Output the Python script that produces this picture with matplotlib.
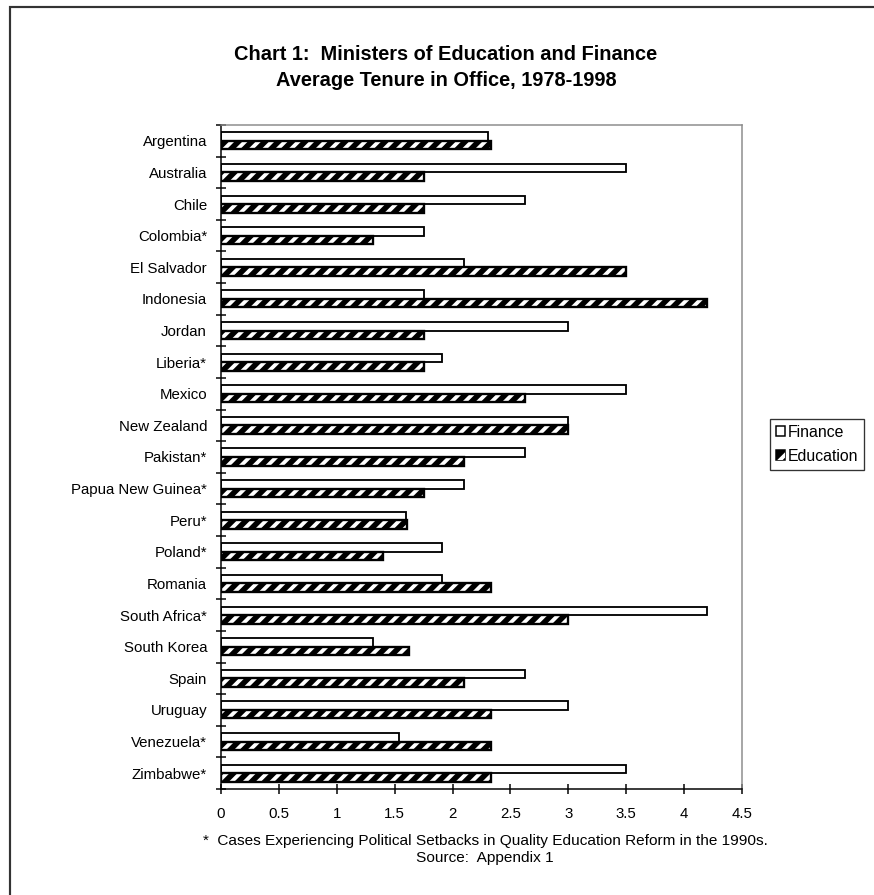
import matplotlib
matplotlib.use("Agg")
import matplotlib.pyplot as plt
import numpy as np
from matplotlib.patches import Rectangle
from matplotlib.legend_handler import HandlerTuple

plt.rcParams['font.family'] = ['Liberation Sans', 'DejaVu Sans']
plt.rcParams['hatch.linewidth'] = 2.3

countries = ["Argentina", "Australia", "Chile", "Colombia*", "El Salvador", "Indonesia",
             "Jordan", "Liberia*", "Mexico", "New Zealand", "Pakistan*", "Papua New Guinea*",
             "Peru*", "Poland*", "Romania", "South Africa*", "South Korea", "Spain",
             "Uruguay", "Venezuela*", "Zimbabwe*"]
finance = [2.31, 3.5, 2.625, 1.75, 2.1, 1.75, 3.0, 1.91, 3.5, 3.0, 2.625, 2.1,
           1.6, 1.91, 1.91, 4.2, 1.31, 2.625, 3.0, 1.54, 3.5]
education = [2.33, 1.75, 1.75, 1.31, 3.5, 4.2, 1.75, 1.75, 2.625, 3.0, 2.1, 1.75,
             1.61, 1.4, 2.33, 3.0, 1.62, 2.1, 2.33, 2.33, 2.33]
xticks = [0, 0.5, 1, 1.5, 2, 2.5, 3, 3.5, 4, 4.5]
xticklabels = ["0", "0.5", "1", "1.5", "2", "2.5", "3", "3.5", "4", "4.5"]

W, H, DPI = 874, 895, 120
fig = plt.figure(figsize=(W / DPI, H / DPI), dpi=DPI)
fig.patch.set_facecolor('white')

# outer border (cut off at right and bottom)
fig.patches.append(Rectangle((9.5 / W, -0.1), 1.2, 1 - 6.7 / H + 0.1,
                             transform=fig.transFigure, fill=False,
                             edgecolor='#333333', linewidth=1.3))

L, R, T, B = 221, 742, 125, 789
ax = fig.add_axes([L / W, 1 - B / H, (R - L) / W, (B - T) / H])

n = len(countries)
y = np.arange(n)
h = 0.27
ax.barh(y - h / 2, finance, height=h, facecolor='white', edgecolor='black',
        linewidth=1.1, zorder=2)
ax.barh(y + h / 2, education, height=h, facecolor='black', edgecolor='black',
        linewidth=1.0, zorder=2)
ax.barh(y + h / 2, education, height=h, facecolor='none', edgecolor='white',
        hatch='///', linewidth=0, zorder=3)
ax.barh(y + h / 2, education, height=h, fill=False, edgecolor='black',
        linewidth=1.4, zorder=4)

ax.set_xlim(0, 4.5)
ax.set_ylim(n - 0.5, -0.5)
ax.set_xticks(xticks)
ax.set_xticklabels(xticklabels, fontsize=9)
ax.set_yticks(y)
ax.set_yticklabels(countries, fontsize=9)
ax.set_yticks(np.arange(n + 1) - 0.5, minor=True)
ax.tick_params(axis='y', which='major', length=0, pad=8.4)
ax.tick_params(axis='y', which='minor', length=5.6, width=0.9, direction='inout', color='black')
ax.tick_params(axis='x', which='major', length=6, width=0.9, direction='inout', pad=7.5)

for s in ['left', 'bottom']:
    ax.spines[s].set_color('black')
    ax.spines[s].set_linewidth(0.9)
for s in ['top', 'right']:
    ax.spines[s].set_color('#8c8c8c')
    ax.spines[s].set_linewidth(0.9)
ax.set_facecolor('white')

# titles
fig.text(446 / W, 1 - 60 / H, "Chart 1:  Ministers of Education and Finance",
         ha='center', va='baseline', fontsize=12, fontweight='bold')
fig.text(446 / W, 1 - 86 / H, "Average Tenure in Office, 1978-1998",
         ha='center', va='baseline', fontsize=12, fontweight='bold')

# footnotes
fig.text(485 / W, 1 - 845 / H,
         "*  Cases Experiencing Political Setbacks in Quality Education Reform in the 1990s.",
         ha='center', va='baseline', fontsize=9.2)
fig.text(485 / W, 1 - 862 / H, "Source:  Appendix 1",
         ha='center', va='baseline', fontsize=9.2)

# legend
h_fin = Rectangle((0, 0), 1, 1, facecolor='white', edgecolor='black', linewidth=0.9)
h_edu = (Rectangle((0, 0), 1, 1, facecolor='black', edgecolor='black', linewidth=0.9),
         Rectangle((0, 0), 1, 1, facecolor='none', edgecolor='white', hatch='//', linewidth=0))
leg = fig.legend([h_fin, h_edu], ["Finance", "Education"],
                 handler_map={tuple: HandlerTuple(ndivide=1, pad=0)},
                 loc='upper left', bbox_to_anchor=(770 / W, 1 - 419 / H),
                 borderaxespad=0, fancybox=False, frameon=True, fontsize=9.5,
                 handlelength=0.6, handleheight=0.6, handletextpad=0.2,
                 borderpad=0.35, labelspacing=0.6)
leg.get_frame().set_edgecolor('black')
leg.get_frame().set_linewidth(0.8)

fig.savefig('out.png', dpi=DPI)
